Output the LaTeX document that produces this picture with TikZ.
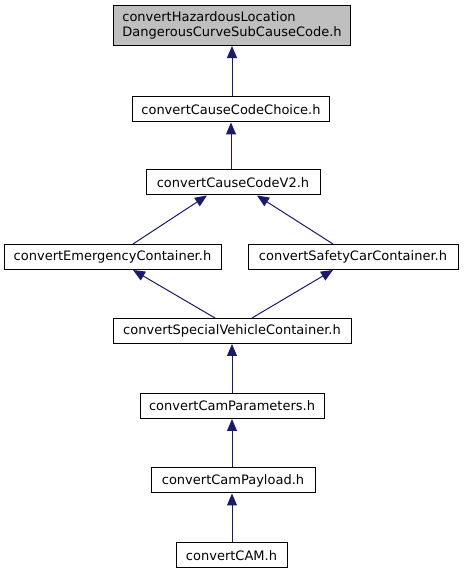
\documentclass[tikz,border=0pt]{standalone}
\usepackage{fontspec}
\setmainfont{DejaVu Sans}
\usetikzlibrary{arrows.meta}
\definecolor{edgeblue}{RGB}{25,25,112}
\definecolor{topgray}{RGB}{191,191,191}
\tikzset{
  filebox/.style={draw=black, line width=1pt, fill=white, minimum height=25pt, inner sep=0pt, align=center, font=\fontsize{13}{15.5}\selectfont},
  depedge/.style={draw=edgeblue, line width=1pt, -{Triangle[length=12pt,width=10pt]}}
}
\begin{document}
\begin{tikzpicture}[x=1pt,y=1pt]
\useasboundingbox (0,0) rectangle (463,575);
\node[filebox, fill=topgray, minimum width=237pt, minimum height=40.5pt, align=left] (top) at (232,549.7) {convertHazardousLocation\\DangerousCurveSubCauseCode.h};
\node[filebox, minimum width=197pt] (choice) at (231,465.5) {convertCauseCodeChoice.h};
\node[filebox, minimum width=174pt] (v2) at (233,392.5) {convertCauseCodeV2.h};
\node[filebox, minimum width=217pt] (emerg) at (112.5,318) {convertEmergencyContainer.h};
\node[filebox, minimum width=210pt] (safety) at (353,318) {convertSafetyCarContainer.h};
\node[filebox, minimum width=238pt] (special) at (232,244) {convertSpecialVehicleContainer.h};
\node[filebox, minimum width=184pt] (params) at (232,169) {convertCamParameters.h};
\node[filebox, minimum width=164pt] (payload) at (233,94.5) {convertCamPayload.h};
\node[filebox, minimum width=111pt] (cam) at (231.5,19.5) {convertCAM.h};
\draw[depedge] (choice.north -| top.south) -- (top.south);
\draw[depedge] (v2.north -| choice.south) -- (choice.south);
\draw[depedge] ([xshift=20.5pt]emerg.north) -- ([xshift=-26pt]v2.south);
\draw[depedge] ([xshift=-20pt]safety.north) -- ([xshift=24pt]v2.south);
\draw[depedge] ([xshift=-17pt]special.north) -- ([xshift=20.5pt]emerg.south);
\draw[depedge] ([xshift=20pt]special.north) -- ([xshift=-20pt]safety.south);
\draw[depedge] (params.north) -- (special.south -| params.north);
\draw[depedge] (payload.north -| params.south) -- (params.south);
\draw[depedge] (cam.north -| params.south) -- (params.south |- payload.south);
\end{tikzpicture}
\end{document}
